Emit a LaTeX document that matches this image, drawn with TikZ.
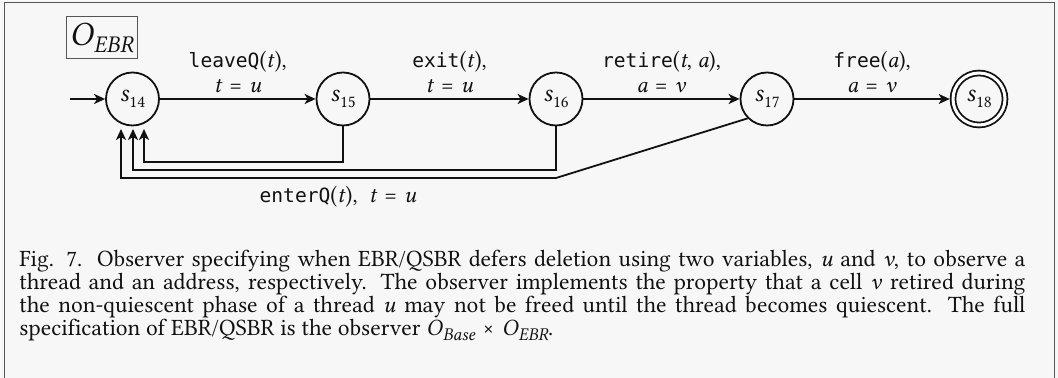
\documentclass[tikz,border=0pt]{standalone}
\usepackage{fontspec}
\setmainfont{Libertinus Serif}
\setmonofont{DejaVu Sans Mono}
\usetikzlibrary{arrows.meta}
\definecolor{bg}{HTML}{F7F7F7}
\definecolor{framec}{HTML}{555555}
\definecolor{ink}{HTML}{111111}
\newcommand\ttx[1]{{\fontsize{9.8}{12.5}\selectfont\ttfamily #1}}
\newcommand\vi[1]{\textit{#1}}
\newcommand\eqs{\hspace{0.3em}=\hspace{0.3em}}
\newcommand\sub[1]{\raisebox{-0.25em}{\fontsize{8.5}{8.5}\selectfont #1}}
\begin{document}
\begin{tikzpicture}[x=0.5pt,y=-0.5pt,
  every node/.style={text=ink},
  state/.style={circle, draw=ink, line width=0.9pt, minimum size=26.5pt, inner sep=0pt,
    font=\fontsize{13}{13}\selectfont},
  accept/.style={state, double, double distance=1.5pt, minimum size=26pt, outer sep=1.65pt},
  edge/.style={draw=ink, line width=0.9pt, -{Stealth[length=5.5pt,width=5pt,inset=1.5pt]}},
  lbl/.style={font=\fontsize{11.5}{12.5}\selectfont, align=center, inner sep=2pt}]
\useasboundingbox (0,0) rectangle (1058,378);
\fill[bg] (0,0) rectangle (1058,378);
\draw[framec, line width=0.7pt] (4.5,378) -- (4.5,2.5) -- (1054.5,2.5) -- (1054.5,378);

\node[draw=framec, line width=0.5pt, minimum width=35.5pt, minimum height=21pt, inner sep=0pt,
  font=\fontsize{17}{17}\selectfont] (title) at (101.5,38)
  {\vi{O}\raisebox{-0.22em}{\fontsize{12}{12}\selectfont\itshape EBR}};

\node[state] (s14) at (132.5,99) {\vi{s}\sub{14}};
\node[state] (s15) at (343,99) {\vi{s}\sub{15}};
\node[state] (s16) at (556,99) {\vi{s}\sub{16}};
\node[state] (s17) at (767,99) {\vi{s}\sub{17}};
\node[accept] (s18) at (979,99) {\vi{s}\sub{18}};

\coordinate (init) at (70,99);
\draw[edge] (init) -- (s14);
\draw[edge] (s14) -- node[lbl, above=0.5pt] {\ttx{leaveQ}(\vi{t}),\\\vi{t}\eqs\vi{u}} (s15);
\draw[edge] (s15) -- node[lbl, above=0.5pt] {\ttx{exit}(\vi{t}),\\\vi{t}\eqs\vi{u}} (s16);
\draw[edge] (s16) -- node[lbl, above=0.5pt] {\ttx{retire}(\vi{t}, \vi{a}),\\\vi{a}\eqs\vi{v}} (s17);
\draw[edge] (s17) -- node[lbl, above=0.5pt] {\ttx{free}(\vi{a}),\\\vi{a}\eqs\vi{v}} (s18);

\coordinate (r1) at (144,129);
\coordinate (r2) at (133,129);
\coordinate (r3) at (121,129);
\coordinate (k1) at (556,178);
\draw[edge] (s15.south) |- (144,162) -- (r1);
\draw[edge] (s16.south) |- (133,170) -- (r2);
\draw[edge] (s17.south west) -- (k1) -- (121,178) -- (r3);
\node[lbl, anchor=base] (lq) at (338,203) {\ttx{enterQ}(\vi{t}),\ \ \vi{t}\eqs\vi{u}};

\node[anchor=base west, text width=503pt, align=justify, inner sep=0pt,
  font=\fontsize{11.7}{11.4}\selectfont] (cap) at (19,267)
{Fig. 7.\ \ Observer specifying when EBR/QSBR defers deletion using two variables, \vi{u} and \vi{v}, to observe a\linebreak
thread and an address, respectively. The observer implements the property that a cell \vi{v} retired during\linebreak
the non-quiescent phase of a thread \vi{u} may not be freed until the thread becomes quiescent. The full\linebreak
specification of EBR/QSBR is the observer \vi{O}\raisebox{-0.2em}{\fontsize{9}{9}\selectfont\itshape Base}\hspace{0.3em}×\hspace{0.3em}\vi{O}\raisebox{-0.2em}{\fontsize{9}{9}\selectfont\itshape EBR}.};
\end{tikzpicture}
\end{document}
